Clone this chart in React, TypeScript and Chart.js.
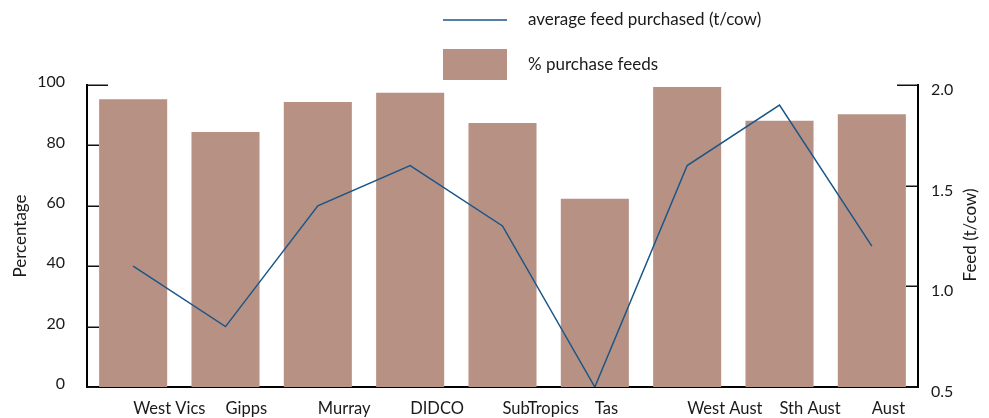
import React, { useEffect, useRef } from "react";
import { Chart, registerables } from "chart.js";

Chart.register(...registerables);

const categories = ["West Vics", "Gipps", "Murray", "DIDCO", "SubTropics", "Tas", "West Aust", "Sth Aust", "Aust"];
const purchasePct = [95.3, 84.4, 94.4, 97.4, 87.4, 62.3, 99.3, 88.2, 90.3];
const avgFeed = [1.1, 0.8, 1.4, 1.6, 1.3, 0.5, 1.6, 1.9, 1.2];
const pctTicks = [0, 20, 40, 60, 80, 100];
const feedTicks = [0.5, 1.0, 1.5, 2.0];
const barLabel = "% purchase feeds";
const lineLabel = "average feed purchased (t/cow)";
const leftTitle = "Percentage";
const rightTitle = "Feed (t/cow)";

const BAR_COLOR = "#b79183";
const LINE_COLOR = "#1b5687";
const TEXT_COLOR = "#1a1a1a";
const FONT_FAMILY = "Lato, 'DejaVu Sans', sans-serif";

const decorPlugin = {
  id: "decor",
  afterDatasetsDraw(chart: any) {
    const ctx = chart.ctx;
    const { left, right } = chart.chartArea;
    const ys = chart.scales.y;
    const y1s = chart.scales.y1;
    ctx.save();
    ctx.strokeStyle = "#111";
    ctx.lineWidth = 1.5;
    ys.ticks.forEach((t: any) => {
      const py = Math.round(ys.getPixelForValue(t.value)) + 0.25;
      const len = t.value === pctTicks[pctTicks.length - 1] ? 21 : 12;
      ctx.beginPath();
      ctx.moveTo(left, py);
      ctx.lineTo(left + len, py);
      ctx.stroke();
    });
    y1s.ticks.forEach((t: any) => {
      const py = Math.round(y1s.getPixelForValue(t.value)) + 0.25;
      const len = t.value === feedTicks[feedTicks.length - 1] ? 21 : 12;
      ctx.beginPath();
      ctx.moveTo(right, py);
      ctx.lineTo(right - len, py);
      ctx.stroke();
    });
    ctx.restore();
  },
  afterDraw(chart: any) {
    const ctx = chart.ctx;
    const ds = chart.data.datasets;
    const lineDs = ds.find((d: any) => d.type === "line");
    const barDs = ds.find((d: any) => d.type === "bar");
    ctx.save();
    ctx.font = `17px ${FONT_FAMILY}`;
    ctx.fillStyle = TEXT_COLOR;
    ctx.textBaseline = "middle";
    ctx.textAlign = "left";
    // legend: line item
    ctx.strokeStyle = lineDs.borderColor;
    ctx.lineWidth = 1.5;
    ctx.beginPath();
    ctx.moveTo(443, 20);
    ctx.lineTo(507, 20);
    ctx.stroke();
    ctx.fillText(lineDs.label, 528, 20);
    // legend: bar item
    ctx.fillStyle = barDs.backgroundColor;
    ctx.fillRect(443, 49, 64, 31);
    ctx.fillStyle = TEXT_COLOR;
    ctx.fillText(barDs.label, 528, 65);
    // right axis title
    ctx.translate(971, 235);
    ctx.rotate(-Math.PI / 2);
    ctx.textAlign = "center";
    ctx.fillText(rightTitle, 0, 0);
    ctx.restore();
  },
};

export default function App() {
  const ref = useRef<HTMLCanvasElement>(null);

  useEffect(() => {
    if (!ref.current) return;
    const chart = new Chart(ref.current, {
      type: "bar",
      data: {
        labels: categories,
        datasets: [
          {
            type: "line",
            label: lineLabel,
            data: avgFeed,
            yAxisID: "y1",
            borderColor: LINE_COLOR,
            backgroundColor: LINE_COLOR,
            borderWidth: 1.5,
            pointRadius: 0,
            tension: 0,
            order: 0,
          } as any,
          {
            type: "bar",
            label: barLabel,
            data: purchasePct,
            yAxisID: "y",
            backgroundColor: BAR_COLOR,
            borderWidth: 0,
            barPercentage: 0.737,
            categoryPercentage: 1,
            order: 1,
          } as any,
        ],
      },
      options: {
        animation: false,
        responsive: false,
        devicePixelRatio: 1,
        layout: { padding: { top: 85, left: 0, right: 0, bottom: 0 } },
        plugins: {
          legend: { display: false },
          tooltip: { enabled: false },
        },
        scales: {
          x: {
            offset: true,
            grid: { display: false },
            border: { display: true, color: "#000", width: 2 },
            ticks: {
              align: "start",
              maxRotation: 0,
              autoSkip: false,
              padding: 4,
              color: TEXT_COLOR,
              font: { family: FONT_FAMILY, size: 16.5 },
            },
            afterFit: (s: any) => {
              s.height = 31;
            },
          },
          y: {
            position: "left",
            min: 0,
            max: 100,
            grid: { display: false },
            border: { display: true, color: "#000", width: 2 },
            afterBuildTicks: (s: any) => {
              s.ticks = pctTicks.map((v) => ({ value: v }));
            },
            ticks: {
              padding: 14,
              labelOffset: -3,
              color: TEXT_COLOR,
              font: { family: FONT_FAMILY, size: 16 },
              callback: (v: any) => String(v),
            },
            title: {
              display: true,
              text: leftTitle,
              color: TEXT_COLOR,
              font: { family: FONT_FAMILY, size: 17 },
              padding: { top: 10, bottom: 0 },
            },
            afterFit: (s: any) => {
              s.width = 87;
            },
          },
          y1: {
            position: "right",
            min: 0.5,
            max: 2.0,
            grid: { display: false },
            border: { display: true, color: "#000", width: 2 },
            afterBuildTicks: (s: any) => {
              s.ticks = feedTicks.map((v) => ({ value: v }));
            },
            ticks: {
              padding: 5,
              labelOffset: 5,
              color: TEXT_COLOR,
              font: { family: FONT_FAMILY, size: 16 },
              callback: (v: any) => Number(v).toFixed(1),
            },
            afterFit: (s: any) => {
              s.width = 71;
            },
          },
        },
      } as any,
      plugins: [decorPlugin],
    });
    return () => chart.destroy();
  }, []);

  return (
    <div style={{ position: "fixed", left: 0, top: 0, width: 989, height: 418, background: "#fff" }}>
      <canvas ref={ref} width={989} height={418} style={{ display: "block", width: 989, height: 418 }} />
    </div>
  );
}
